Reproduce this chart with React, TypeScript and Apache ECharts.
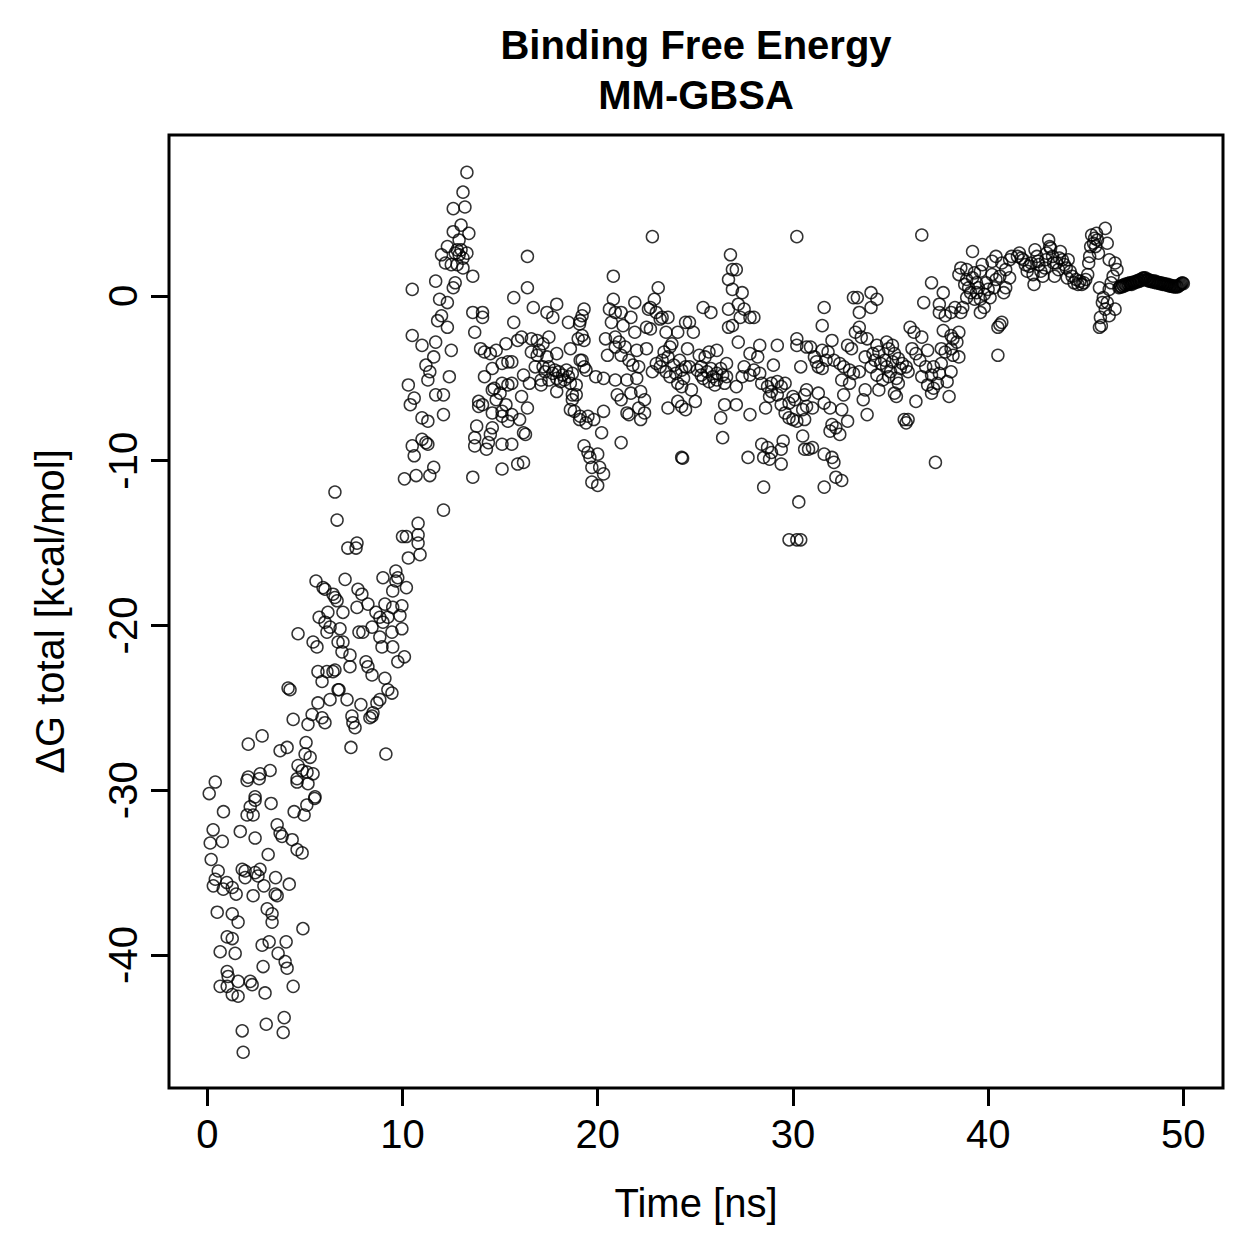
import React, { useEffect, useRef } from "react";
import * as echarts from "echarts";

// [time (ns), ΔG total (kcal/mol)]
const framesLowEarly: [number, number][] = [
  [0.41,-29.5],[0.1,-30.2],[2.04,-29.4],[2.66,-29.3],[4.6,-29.5],[5.16,-29.6],
  [0.83,-31.3],[2.45,-30.6],[2.2,-31.0],[2.04,-31.5],[2.35,-31.5],[3.27,-30.8],[4.45,-31.3],[4.96,-31.5],[5.1,-30.9],[5.5,-30.5],
  [0.3,-32.4],[0.15,-33.2],[0.77,-33.1],[1.69,-32.5],[2.45,-32.9],[3.58,-32.1],[3.73,-32.6],[3.83,-32.8],[4.35,-33.0],[4.6,-33.6],[4.86,-33.8],
  [0.2,-34.2],[3.12,-33.9],[0.56,-34.9],[0.41,-35.4],[0.31,-35.8],[0.82,-36.0],[1.0,-35.6],[1.28,-35.9],[1.48,-36.3],[1.79,-34.8],[1.94,-34.9],[1.94,-35.3],[2.45,-35.0],[2.7,-34.8],[2.6,-35.2],[2.35,-36.4],[2.9,-35.8],[3.5,-35.3],[3.48,-36.3],[3.58,-36.4],[4.2,-35.7],
  [0.51,-37.4],[1.28,-37.5],[1.58,-38.0],[3.07,-37.2],[3.32,-37.5],[3.32,-38.0],[4.9,-38.4],[1.02,-38.9],[1.28,-39.0],[0.66,-39.8],[1.43,-39.9],[2.81,-39.4],[3.17,-39.2],[4.04,-39.2],[3.63,-39.9],[3.99,-40.4],[4.09,-40.8],[2.86,-40.7],
  [1.02,-41.0],[1.07,-41.3],[1.58,-41.6],[2.2,-41.6],[2.3,-41.8],[0.66,-41.9],[1.02,-41.9],[1.28,-42.4],[1.58,-42.5],[2.96,-42.3],[4.4,-41.9],[1.79,-44.6],[3.02,-44.2],[3.94,-43.8],[3.89,-44.7],[1.84,-45.9]
];

const framesMidEarly: [number, number][] = [
  [6.54,-11.9],[6.65,-13.6],[5.57,-17.3],[5.93,-17.7],[6.03,-17.8],[6.44,-18.1],[6.54,-18.3],[6.65,-18.5],[6.18,-19.2],[5.73,-19.5],[6.03,-19.8],[6.29,-20.1],[6.13,-20.4],[4.65,-20.5],[5.42,-21.0],[5.62,-21.3],[6.7,-21.0],[5.67,-22.8],[6.13,-22.8],[6.44,-22.8],[5.88,-23.4],[6.7,-23.9],[4.14,-23.8],[4.24,-23.9],[6.29,-24.5],[5.67,-24.7],[5.37,-25.4],[5.88,-25.6],[6.03,-25.9],[4.4,-25.7],[5.16,-26.0],[2.81,-26.7],[2.1,-27.2],[5.06,-27.1],[3.73,-27.6],[4.09,-27.4],[5.01,-27.8],[5.27,-28.0],[4.65,-28.5],[4.86,-28.8],[5.11,-28.9],[5.42,-29.0],[4.6,-29.3],[3.22,-28.8],[2.71,-29.0],[2.1,-29.2],[2.45,-30.4],[5.52,-30.4]
];

const framesRise: [number, number][] = [
  [12.1,-13.0],[10.8,-13.8],[10.0,-14.6],[10.2,-14.6],[10.8,-14.5],[10.8,-15.0],[10.3,-15.9],[10.9,-15.7],[7.2,-15.3],[7.67,-15.0],[7.62,-15.3],[7.06,-17.2],[9.0,-17.1],[9.66,-16.7],[9.76,-17.1],[9.66,-17.3],[9.5,-17.9],[10.2,-17.7],[7.72,-17.8],[7.92,-18.1],[6.95,-19.2],[7.67,-18.9],[8.23,-18.7],[8.64,-19.2],[8.84,-19.5],[9.1,-18.7],[9.5,-18.9],[9.97,-18.8],[9.87,-19.4],[9.25,-19.5],[9.0,-19.8],[8.44,-20.1],[7.77,-20.4],[7.97,-20.4],[6.8,-20.2],[8.84,-20.7],[9.46,-20.4],[9.97,-20.2],[8.95,-21.3],[9.5,-21.3],[6.95,-21.0],[6.9,-21.6],[7.31,-21.8],[7.31,-22.5],[8.13,-22.2],[8.23,-22.5],[8.44,-23.0],[9.76,-22.2],[10.1,-21.9],[6.54,-22.7],[9.1,-23.2],[9.25,-23.9],[9.46,-24.1],[6.75,-23.9],[7.16,-24.5],[7.87,-24.8],[8.69,-24.7],[8.84,-24.5],[8.33,-25.6],[8.49,-25.3],[8.44,-25.5],[7.41,-25.5],[7.46,-25.9],[7.57,-26.2],[7.36,-27.4],[9.15,-27.8]
];

const framesPeak: [number, number][] = [
  [13.3,7.5],[13.1,6.3],[12.6,5.3],[13.2,5.4],[13.0,4.3],[12.6,3.9],[13.4,3.8],[12.9,3.4],[12.3,3.0],[12.0,2.5],[12.8,2.8],[13.0,2.8],[13.3,2.6],[12.7,2.6],[12.9,2.5],[13.1,2.3],[12.2,2.0],[12.5,1.9],[12.8,1.9],[13.1,1.7],[11.7,0.9],[10.5,0.4],[12.7,0.8],[12.6,0.5],[11.9,-0.2],[12.3,-0.4],[12.0,-1.2],[11.8,-1.5],[12.3,-1.9],[10.5,-2.4],[11.0,-3.0],[11.7,-2.8],[12.5,-3.3],[11.6,-3.7],[11.2,-4.2],[11.4,-4.6],[11.3,-5.1],[12.4,-4.9],[10.3,-5.4],[10.6,-6.2],[10.4,-6.6],[11.7,-6.0],[12.1,-6.0],[11.0,-7.4],[11.3,-7.6],[12.1,-7.2],[11.0,-8.7],[11.2,-8.9],[11.3,-9.0],[10.5,-9.1],[10.6,-9.7],[11.6,-10.4],[10.7,-10.9],[10.1,-11.1],[11.4,-10.9]
];

const framesPlateau14to19: [number, number][] = [
  [13.6,1.2],[16.4,2.4],[16.4,0.5],[15.7,-0.1],[16.7,-0.7],[17.4,-1.0],[17.9,-0.5],[17.7,-1.3],[18.5,-1.6],[19.1,-1.5],[14.1,-1.0],[14.1,-1.3],[13.6,-1.0],[15.7,-1.6],[13.7,-2.2],[14.0,-3.2],[14.2,-3.4],[14.5,-3.5],[14.8,-3.3],[15.3,-2.9],[15.9,-2.7],[16.1,-2.5],[16.6,-2.6],[16.9,-2.7],[17.2,-2.9],[17.5,-2.5],[16.6,-3.4],[16.9,-3.6],[17.0,-3.3],[17.4,-3.7],[17.9,-3.5],[18.6,-3.2],[19.0,-2.6],
  [19.1,-3.9],[15.1,-4.1],[15.4,-4.0],[15.6,-4.0],[14.6,-4.4],[14.2,-4.9],[16.2,-4.8],[16.8,-4.3],[17.2,-4.3],[17.5,-4.3],[17.8,-4.5],[18.0,-4.6],[18.2,-4.8],[18.5,-4.9],[18.7,-4.7],[17.9,-5.0],[18.3,-5.1],[18.6,-5.3],[18.9,-5.4],[17.5,-5.1],[17.1,-5.4],[17.1,-5.1],[16.5,-5.3],[15.6,-5.3],[15.4,-5.4],[15.1,-5.3],[14.7,-5.6],[15.0,-5.9],[14.8,-6.3],[14.6,-5.7],[17.9,-5.8],[18.7,-6.0],[18.9,-6.0],[18.7,-6.3],[18.6,-6.9],[18.8,-7.0],[19.1,-7.3],[19.5,-7.3],
  [13.9,-6.4],[14.1,-6.6],[13.9,-6.7],[15.3,-6.6],[15.1,-7.0],[16.1,-6.1],[16.4,-6.8],[15.1,-7.3],[15.6,-7.2],[16.0,-7.5],[15.4,-7.6],[14.6,-7.1],[13.8,-7.9],[14.6,-8.0],[14.5,-8.4],[14.4,-8.9],[13.7,-8.6],[13.7,-9.1],[14.3,-9.3],[15.1,-9.0],[15.6,-9.0],[16.2,-8.3],[16.3,-8.4],[15.9,-10.2],[16.2,-10.1],[15.1,-10.5],[13.6,-11.0],
  [17.7,-4.7],[18.1,-5.2],[17.3,-4.6],[18.4,-4.5]
];

const framesPlateau19to25: [number, number][] = [
  [22.8,3.6],[20.8,1.2],[23.1,0.5],[22.9,-0.2],[22.7,-0.7],[20.8,-0.2],[21.9,-0.4],[20.6,-0.8],[20.9,-1.0],[21.2,-1.0],[21.7,-1.3],[22.6,-0.8],[23.0,-1.0],[23.3,-1.3],[23.6,-1.3],[23.2,-1.4],[19.3,-0.8],[19.2,-1.2],[19.07,-1.7],[20.7,-1.6],[21.3,-1.8],[21.9,-2.2],[22.5,-1.9],[22.7,-2.0],[24.5,-1.6],
  [23.5,-2.2],[24.1,-2.2],[19.2,-2.4],[19.3,-2.7],[20.4,-2.6],[20.9,-2.5],[21.1,-2.8],[21.4,-3.1],[20.9,-3.1],[22.0,-3.3],[22.5,-3.2],[20.5,-3.6],[21.2,-3.6],[21.6,-3.9],[21.8,-4.2],[22.1,-4.3],[23.0,-4.1],[23.3,-3.9],[23.4,-3.4],[23.7,-3.1],[23.8,-2.9],[24.6,-3.2],[23.2,-4.3],[23.5,-4.6],[23.7,-4.9],[24.0,-4.7],[24.3,-4.5],[24.5,-4.3],[24.1,-5.3],[24.3,-5.5],
  [19.2,-3.9],[19.3,-4.3],[19.4,-4.5],[19.9,-4.9],[20.3,-5.0],[20.9,-5.1],[21.5,-5.1],[22.0,-5.0],[21.7,-5.9],[22.2,-5.8],[22.4,-6.3],[21.0,-6.0],[21.2,-6.3],[21.5,-7.1],[21.6,-7.2],[22.1,-6.8],[22.4,-7.1],[22.2,-7.5],[23.6,-6.8],[24.1,-6.4],[24.3,-6.7],[24.5,-6.9],[20.3,-7.0],[19.8,-7.5],[19.4,-7.7],[19.07,-7.5],[20.2,-8.3],[21.2,-8.9],
  [19.3,-9.1],[19.5,-9.5],[19.6,-9.8],[20.0,-9.6],[19.7,-10.4],[20.1,-10.4],[20.3,-10.8],[19.7,-11.3],[20.0,-11.5],[24.3,-9.8],[24.35,-9.85],
  [23.9,-4.2],[24.2,-3.9],[23.6,-3.7],[24.4,-5.0],[22.8,-4.6]
];

const framesPlateau25to31: [number, number][] = [
  [30.2,3.6],[26.8,2.5],[26.9,1.6],[27.1,1.6],[26.7,1.0],[26.9,0.4],[27.4,0.2],[25.4,-0.7],[25.8,-1.0],[26.7,-0.8],[27.2,-0.5],[27.5,-0.8],[27.8,-1.3],[28.0,-1.3],[27.3,-1.3],[26.7,-1.9],[26.9,-1.8],[24.7,-1.6],[24.9,-2.2],[27.2,-2.8],[28.3,-3.0],[29.2,-3.0],[30.2,-2.6],[30.2,-3.0],[30.7,-3.1],[27.8,-3.5],[28.2,-3.7],[29.0,-4.2],[30.4,-4.3],
  [25.7,-3.4],[26.1,-3.3],[25.2,-3.6],[25.5,-3.7],[26.6,-4.1],[27.5,-4.3],[28.0,-4.5],[24.7,-4.3],[25.1,-4.5],[25.3,-4.3],[25.6,-4.6],[25.8,-4.4],[26.1,-4.7],[26.4,-4.8],[26.6,-4.9],[25.4,-5.0],[25.7,-5.2],[26.1,-5.1],[26.5,-5.3],[27.1,-5.5],[27.4,-4.9],[27.8,-4.8],[28.3,-4.7],[28.4,-5.3],[28.7,-5.5],[28.9,-5.3],[29.2,-5.2],[29.4,-5.5],[29.6,-5.3],[28.9,-5.8],[29.2,-6.0],[28.8,-6.1],[28.6,-6.8],[29.4,-6.6],[29.8,-6.5],[30.0,-6.1],[30.1,-6.3],[30.6,-6.0],[30.5,-6.9],[29.6,-7.1],[29.8,-7.4],[30.0,-7.5],[30.2,-7.6],[30.6,-7.5],
  [24.8,-5.7],[25.0,-6.4],[26.5,-6.6],[27.1,-6.6],[26.3,-7.4],[27.8,-7.2],[26.4,-8.6],[30.5,-8.5],[30.6,-9.3],[27.7,-9.8],[28.4,-9.0],[28.7,-9.2],[28.9,-9.5],[28.5,-9.8],[28.8,-9.9],[29.5,-8.8],[29.4,-9.3],[29.4,-10.2],[28.5,-11.6],[30.3,-12.5],[29.8,-14.8],[30.2,-14.8],[30.4,-14.8],
  [25.9,-4.9],[26.3,-4.4],[25.3,-4.8],[26.0,-5.4]
];

const framesPlateau31to36: [number, number][] = [
  [33.1,-0.1],[33.3,-0.1],[34.0,0.2],[34.3,-0.2],[34.0,-0.7],[31.6,-0.7],[33.4,-1.0],[31.5,-1.8],[33.4,-1.9],[33.2,-2.2],[33.5,-2.5],[33.8,-2.6],[32.0,-2.7],[32.8,-3.0],[33.0,-3.2],[34.3,-3.0],[34.8,-2.8],[35.1,-3.0],[36.0,-1.9],[36.2,-2.2],
  [30.9,-3.1],[31.5,-3.3],[31.8,-3.4],[31.1,-3.7],[31.2,-4.0],[31.3,-4.3],[31.5,-4.4],[31.7,-3.9],[32.1,-3.9],[32.4,-4.1],[32.6,-4.3],[32.9,-4.5],[33.1,-4.7],[33.4,-4.6],[32.5,-5.1],[32.9,-5.3],[32.6,-6.0],[33.7,-3.7],[34.0,-4.3],[34.1,-3.5],[34.4,-3.4],[34.7,-3.9],[34.8,-4.3],[34.9,-3.2],[35.2,-3.5],[35.4,-3.8],[35.6,-4.1],[35.8,-4.3],[35.9,-4.6],[36.1,-3.2],[36.3,-3.5],
  [34.3,-4.8],[34.6,-5.1],[34.9,-4.9],[35.3,-5.0],[35.4,-5.3],[35.2,-5.9],[35.3,-6.1],[34.4,-5.7],[33.7,-5.7],[33.6,-6.3],[33.8,-7.2],[35.7,-7.5],[35.8,-7.7],[35.9,-7.5],[36.3,-6.4],
  [30.7,-5.7],[30.7,-6.7],[31.0,-6.8],[31.3,-5.9],[31.6,-6.5],[31.9,-6.8],[32.5,-6.9],[32.8,-7.6],[32.0,-7.8],[32.2,-8.0],[31.9,-8.2],[32.4,-8.4],[30.8,-9.3],[31.0,-9.2],[31.6,-9.6],[32.0,-9.8],[32.1,-10.1],[32.2,-11.0],[32.5,-11.2],[31.6,-11.6],
  [34.5,-4.1],[35.0,-4.6],[35.5,-4.4],[34.2,-3.9],[35.1,-4.0]
];

const framesLate36to41: [number, number][] = [
  [36.6,3.7],[39.2,2.7],[38.6,1.7],[38.9,1.6],[38.5,1.3],[38.9,1.0],[38.8,0.7],[39.2,1.1],[39.4,0.8],[39.6,1.5],[40.2,2.1],[40.4,2.4],[40.7,2.0],[41.1,2.2],[41.2,2.4],[41.5,2.4],[40.9,1.6],[41.1,1.1],[40.9,0.5],[40.8,0.2],[40.4,1.0],[40.3,0.5],[40.0,0.4],[39.8,0.1],[39.4,0.2],[39.1,0.2],[38.9,-0.1],[39.3,-0.2],[39.6,-0.2],[40.1,-0.1],[39.8,-0.7],[39.6,-1.0],[38.7,-0.7],[38.3,-0.7],[38.1,-1.0],[38.6,-1.0],
  [37.1,0.8],[37.7,0.2],[36.7,-0.4],[37.5,-0.5],[37.5,-1.0],[37.8,-1.2],[40.5,-1.9],[40.7,-1.6],[40.6,-1.75],[40.5,-3.6],[36.6,-2.5],[37.7,-2.1],[38.1,-2.4],[38.5,-2.2],[38.2,-2.6],[38.4,-2.8],[36.9,-3.3],[37.6,-3.2],[37.8,-3.4],[38.1,-3.2],[38.2,-3.6],[38.5,-3.7],[36.5,-3.9],[36.8,-4.3],[37.2,-4.3],[37.6,-4.1],[36.6,-4.9],[37.1,-4.8],[37.5,-4.7],[38.1,-4.6],[36.9,-5.4],[37.2,-5.6],[37.4,-5.3],[37.9,-5.2],[37.1,-5.9],[38.0,-6.1],[37.3,-10.1],
  [39.0,0.5],[39.5,0.5],[39.9,0.8],[40.2,1.3],[39.3,1.4],[40.6,1.2],[39.7,1.9]
];

const framesEnd41to47: [number, number][] = [
  [41.6,2.6],[41.7,2.3],[41.8,2.2],[41.9,1.9],[42.0,1.5],[42.1,1.8],[42.2,2.0],[42.3,1.3],[42.35,0.7],[42.4,2.8],[42.5,2.4],[42.55,2.1],[42.6,1.9],[42.7,1.5],[42.8,1.2],[42.9,1.7],[42.95,2.2],[43.0,2.6],[43.1,3.4],[43.15,3.0],[43.2,2.9],[43.3,2.4],[43.35,2.0],[43.4,1.2],[43.5,2.0],[43.6,1.6],[43.65,2.3],[43.7,2.7],[43.8,2.2],[43.9,1.9],[44.0,1.7],[44.05,1.1],[44.1,2.2],[44.2,1.5],[44.3,1.2],[44.4,0.8],[44.5,1.0],[44.6,0.7],[44.7,0.9],[44.8,0.7],[44.9,0.8],[45.0,1.0],[45.1,1.3],[45.15,2.0],[45.2,2.4],[45.25,3.0],[45.3,3.7],[45.4,3.2],[45.45,3.5],[45.5,3.0],[45.55,3.8],[45.6,3.4],[45.65,2.6],
  [45.7,0.5],[45.75,-1.3],[45.8,-1.8],[45.7,-1.9],[45.85,-0.4],[45.9,-0.1],[46.0,4.1],[46.0,-0.8],[46.1,3.2],[46.1,-0.4],[46.2,-1.2],[46.2,2.2],[46.3,0.8],[46.2,0.4],[46.4,1.2],[46.5,2.0],[46.5,-0.8],[46.6,1.6],[46.7,0.5]
];

const framesTail47to50: [number, number][] = [
  [46.75,0.55],[46.8,0.6],[46.85,0.55],[46.9,0.65],[46.95,0.6],[47.0,0.7],[47.05,0.65],[47.1,0.7],[47.15,0.75],[47.2,0.7],[47.25,0.8],[47.3,0.75],[47.35,0.7],[47.4,0.8],[47.45,0.85],[47.5,0.8],[47.55,0.85],[47.6,0.9],[47.65,0.85],[47.7,0.95],[47.75,0.9],[47.8,1.0],[47.85,0.95],[47.9,1.05],[47.95,1.1],[48.0,1.05],[48.05,1.1],[48.1,1.0],[48.15,0.95],[48.2,1.0],[48.25,0.9],[48.3,0.95],[48.35,0.9],[48.4,0.85],[48.45,0.9],[48.5,0.85],[48.55,0.9],[48.6,0.8],[48.65,0.85],[48.7,0.8],[48.75,0.8],[48.8,0.75],[48.85,0.8],[48.9,0.75],[48.95,0.7],[49.0,0.75],[49.05,0.7],[49.1,0.7],[49.15,0.65],[49.2,0.7],[49.25,0.65],[49.3,0.6],[49.35,0.65],[49.4,0.6],[49.45,0.6],[49.5,0.55],[49.55,0.6],[49.6,0.55],[49.65,0.6],[49.7,0.55],[49.75,0.6],[49.8,0.65],[49.85,0.7],[49.9,0.75],[49.95,0.8],[50.0,0.75]
];

const xTicks = [0, 10, 20, 30, 40, 50];
const yTicks = [-40, -30, -20, -10, 0];

const FONT = '"Liberation Sans", Arial, Helvetica, sans-serif';

export default function App() {
  const ref = useRef<HTMLDivElement>(null);
  useEffect(() => {
    if (!ref.current) return;
    const chart = echarts.init(ref.current, null, { renderer: "svg" });
    const data = [
      ...framesLowEarly, ...framesMidEarly, ...framesRise, ...framesPeak,
      ...framesPlateau14to19, ...framesPlateau19to25, ...framesPlateau25to31,
      ...framesPlateau31to36, ...framesLate36to41, ...framesEnd41to47, ...framesTail47to50,
    ];
    chart.setOption({
      animation: false,
      backgroundColor: "#fff",
      title: {
        text: "Binding Free Energy\nMM-GBSA",
        left: 696,
        top: 20,
        padding: 0,
        textAlign: "center",
        textStyle: { fontFamily: FONT, fontSize: 40, fontWeight: "bold", color: "#000", lineHeight: 50 },
      },
      grid: { left: 169, top: 135, width: 1054, height: 953, show: true, borderColor: "#000", borderWidth: 3, backgroundColor: "transparent" },
      xAxis: {
        type: "value",
        position: "bottom",
        min: -1.96,
        max: 52.03,
        splitLine: { show: false },
        axisLine: { show: false, onZero: false },
        axisTick: { show: true, inside: false, customValues: xTicks, length: 18, lineStyle: { color: "#000", width: 3 } },
        axisLabel: { customValues: xTicks, margin: 26, fontSize: 40, color: "#000", fontFamily: FONT },
        name: "Time [ns]",
        nameLocation: "middle",
        nameGap: 95,
        nameTextStyle: { fontSize: 40, color: "#000", fontFamily: FONT },
      },
      yAxis: {
        type: "value",
        position: "left",
        min: -48.07,
        max: 9.77,
        splitLine: { show: false },
        axisLine: { show: false, onZero: false },
        axisTick: { show: true, inside: false, customValues: yTicks, length: 18, lineStyle: { color: "#000", width: 3 } },
        axisLabel: { customValues: yTicks, rotate: 90, margin: 26, fontSize: 40, color: "#000", fontFamily: FONT },
        name: "ΔG total [kcal/mol]",
        nameLocation: "middle",
        nameRotate: 90,
        nameGap: 99,
        nameTextStyle: { fontSize: 40, color: "#000", fontFamily: FONT },
      },
      series: [
        {
          type: "scatter",
          data,
          symbol: "circle",
          symbolSize: 12,
          silent: true,
          itemStyle: { color: "rgba(0,0,0,0)", borderColor: "#000", borderWidth: 1.5 },
        },
      ],
    });
    return () => chart.dispose();
  }, []);
  return <div ref={ref} style={{ position: "absolute", left: 0, top: 0, width: 1259, height: 1259 }} />;
}
